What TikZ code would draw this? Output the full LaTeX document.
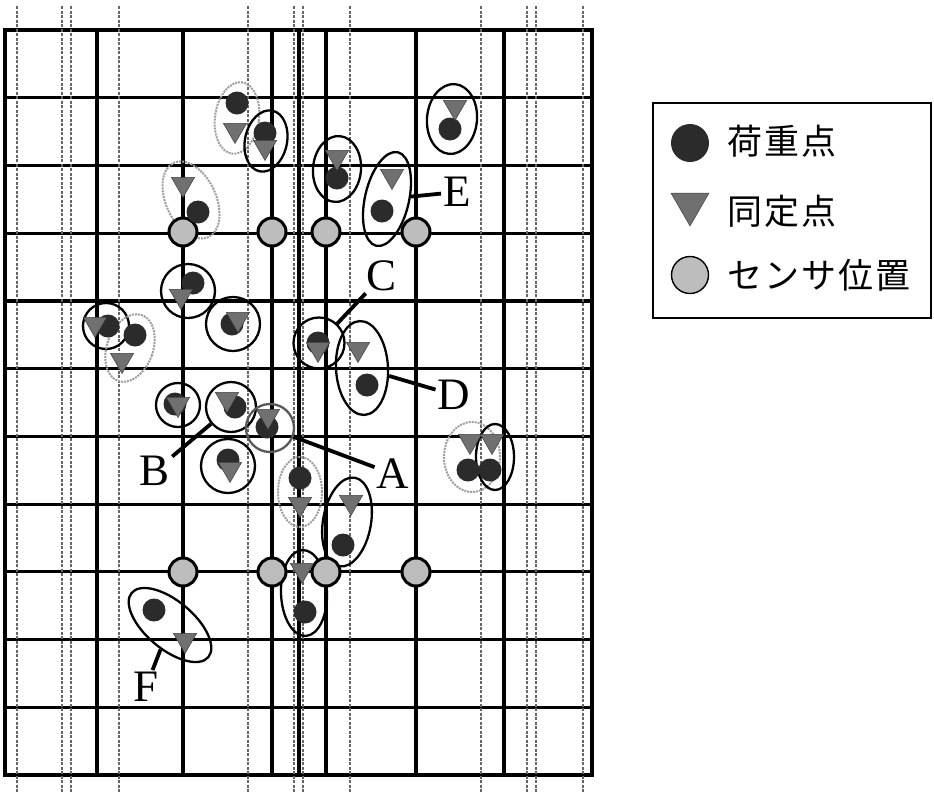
\documentclass[tikz,border=0pt]{standalone}
\usepackage{fontspec}
\setmainfont{Liberation Serif}
\newfontfamily\cjk[LetterSpace=6]{Noto Sans CJK JP}
\usepackage{tikz}
\usetikzlibrary{positioning, shapes.geometric}
\definecolor{loadfill}{HTML}{2B2B2B}
\definecolor{fixfill}{HTML}{707070}
\definecolor{sensfill}{HTML}{BDBDBD}
\definecolor{guidegray}{HTML}{666666}
\definecolor{ringgray}{HTML}{9E9E9E}

\begin{document}
\begin{tikzpicture}[x=1pt, y=-1pt,
  gridline/.style={line width=3.2pt},
  guide/.style={draw=guidegray, line width=2.2pt, dash pattern=on 3pt off 1.5pt},
  loadpt/.style={circle, fill=loadfill, inner sep=0pt, minimum size=23pt},
  fixpt/.style={regular polygon, regular polygon sides=3, shape border rotate=180,
              fill=fixfill, draw=black!75, line width=0.5pt, inner sep=0pt, minimum size=27pt},
  sensor/.style={circle, draw=black, line width=3pt, fill=sensfill,
              inner sep=0pt, minimum size=28pt},
  ring/.style={ellipse, draw=black, line width=2.3pt, inner sep=0pt},
  gring/.style={ellipse, draw=ringgray, line width=2pt, dash pattern=on 2pt off 1pt, inner sep=0pt},
  lead/.style={line width=3.8pt},
  tag/.style={font=\fontsize{45}{45}\selectfont, inner sep=2pt},
  legtxt/.style={font=\cjk\fontsize{35}{35}\selectfont, anchor=west, inner sep=0pt}
]
  \useasboundingbox (0,0) rectangle (934,793);

  % Grid
  \foreach \x in {97,183,272,299,326,416,504}
    \draw[gridline] (\x,30) -- (\x,775);
  \foreach \i in {1,...,10}
    \draw[gridline] (5,{30+67.73*\i}) -- (592,{30+67.73*\i});
  \draw[gridline] (5,30) rectangle (592,775);

  % Guide lines
  \foreach \x in {17,62,71,119,248,294,303,350,481,527,536,583}
    \draw[guide] (\x,6) -- (\x,792);

  % Groups
  \node[gring, minimum width=44pt, minimum height=72pt, rotate=-8] (g1) at (237,118) {};
  \node[ring, minimum width=42pt, minimum height=62pt, rotate=-12] (r1) at (266,141) {};
  \node[gring, minimum width=50pt, minimum height=82pt, rotate=25] (g2) at (191,200) {};
  \node[ring, minimum width=50pt, minimum height=70pt, rotate=-5] (r2) at (452,119) {};
  \node[ring, minimum width=48pt, minimum height=66pt, rotate=-5] (r3) at (337,169) {};
  \node[ring, minimum width=44pt, minimum height=96pt, rotate=-13] (eE) at (387,199) {};
  \node[ring, minimum size=54pt] (r4) at (188,291) {};
  \node[ring, minimum size=54pt] (r5) at (233,324) {};
  \node[ring, minimum size=46pt] (r6) at (106,326) {};
  \node[gring, minimum width=46pt, minimum height=70pt, rotate=-20] (g3) at (130,348) {};
  \node[ring, minimum size=51pt] (eC) at (319,343) {};
  \node[ring, minimum width=52pt, minimum height=94pt, rotate=3] (eD) at (362,368) {};
  \node[gring, minimum width=56pt, minimum height=70pt] (g4) at (472,457) {};
  \node[ring, minimum width=38pt, minimum height=66pt] (r7) at (495,457) {};
  \node[ring, minimum size=44pt] (r8) at (178,405) {};
  \node[ring, minimum size=50pt] (eB) at (231,407) {};
  \node[ring, draw=black!65, minimum size=48pt] (eA) at (270,428) {};
  \node[ring, minimum size=54pt] (r9) at (228,466) {};
  \node[gring, minimum width=44pt, minimum height=70pt] (g5) at (300,492) {};
  \node[ring, minimum width=48pt, minimum height=90pt, rotate=-10] (r10) at (347,522) {};
  \node[ring, minimum width=46pt, minimum height=86pt, rotate=2] (r11) at (304,593) {};
  \node[ring, minimum width=100pt, minimum height=48pt, rotate=-40] (eF) at (170,625) {};

  % Sensors
  \foreach \p [count=\i] in {(183,232),(272,232),(326,232),(416,232),
                             (183,572),(272,572),(326,572),(416,572)}
    \node[sensor] (s\i) at \p {};

  % Load points
  \foreach \p [count=\i] in {(237,103),(265,133),(198,212),(450,129),(337,178),(382,211),
                             (193,283),(232,324),(108,326),(135,335),(318,343),(367,385),
                             (468,470),(490,470),(175,404),(235,407),(267,427),(228,460),
                             (300,478),(343,545),(305,612),(154,610)}
    \node[loadpt] (ld\i) at \p {};

  % Identified points
  \foreach \p [count=\i] in {(235,130),(265,147),(183,184),(455,107),(337,157),(392,176),
                             (181,296),(238,319),(95,324),(122,360),(318,349),(358,349),
                             (470,441),(492,441),(178,404),(227,399),(268,416),(230,469),
                             (300,504),(351,502),(302,570),(185,640)}
    \node[fixpt] (fx\i) at \p {};

  % Labels
  \node[tag] (tE) at (457,192) {E};
  \node[tag] (tC) at (382,276) {C};
  \node[tag] (tD) at (454,395) {D};
  \node[tag] (tA) at (393,474) {A};
  \node[tag] (tB) at (155,471) {B};
  \node[tag] (tF) at (146,687) {F};

  \draw[lead] (eE) -- (tE);
  \draw[lead] (eC) -- (tC);
  \draw[lead] (eD) -- (tD);
  \draw[lead] (eA) -- (tA);
  \draw[lead] (tB) -- (eB);
  \draw[lead] (eF) -- (tF);

  % Legend
  \draw[line width=2.4pt] (653,103) rectangle (931,318);
  \node[loadpt, minimum size=38pt] (kLoad) at (690,143) {};
  \node[legtxt] (kLoadTxt) at (727,141) {荷重点};
  \node[fixpt, minimum size=44pt] (kFix) at (690,204) {};
  \node[legtxt] (kFixTxt) at (727,211) {同定点};
  \node[sensor, line width=1.4pt, minimum size=37pt] (kSens) at (690,275) {};
  \node[legtxt] (kSensTxt) at (727,275) {センサ位置};
\end{tikzpicture}
\end{document}
